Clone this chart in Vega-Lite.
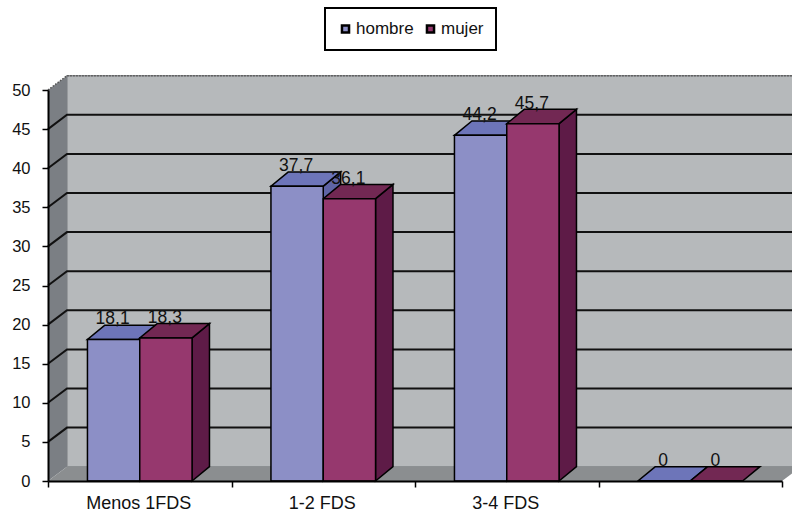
{
"$schema":"https://vega.github.io/schema/vega-lite/v6.json",
"width":734,"height":391,
"autosize":{"type":"none"},
"padding":{"left":48,"top":90,"right":10,"bottom":37},
"background":"white",
"config":{"font":"Liberation Sans","view":{"stroke":null},"legend":{"strokeWidth":2}},
"datasets":{
"bars":[
{"cat":"Menos 1FDS","serie":"hombre","value":18.1,"label":"18,1"},
{"cat":"Menos 1FDS","serie":"mujer","value":18.3,"label":"18,3"},
{"cat":"1-2 FDS","serie":"hombre","value":37.7,"label":"37,7"},
{"cat":"1-2 FDS","serie":"mujer","value":36.1,"label":"36,1"},
{"cat":"3-4 FDS","serie":"hombre","value":44.2,"label":"44,2"},
{"cat":"3-4 FDS","serie":"mujer","value":45.7,"label":"45,7"},
{"cat":" ","serie":"hombre","value":0,"label":"0"},
{"cat":" ","serie":"mujer","value":0,"label":"0"}
],
"walls":[
{"part":"side","x":0,"y":0,"y2":50},
{"part":"side","x":0.1035,"y":1.83,"y2":51.83},
{"part":"back","x":0.1035,"y":1.83,"y2":51.83},
{"part":"back","x":4.1035,"y":1.83,"y2":51.83}
],
"floor":[
{"y":0,"x":0,"x2":4},
{"y":1.83,"x":0.1035,"x2":4.1035}
],
"grid":[
{"t":5,"x":0,"y":5},{"t":5,"x":0.1035,"y":6.83},{"t":5,"x":4.1035,"y":6.83},
{"t":10,"x":0,"y":10},{"t":10,"x":0.1035,"y":11.83},{"t":10,"x":4.1035,"y":11.83},
{"t":15,"x":0,"y":15},{"t":15,"x":0.1035,"y":16.83},{"t":15,"x":4.1035,"y":16.83},
{"t":20,"x":0,"y":20},{"t":20,"x":0.1035,"y":21.83},{"t":20,"x":4.1035,"y":21.83},
{"t":25,"x":0,"y":25},{"t":25,"x":0.1035,"y":26.83},{"t":25,"x":4.1035,"y":26.83},
{"t":30,"x":0,"y":30},{"t":30,"x":0.1035,"y":31.83},{"t":30,"x":4.1035,"y":31.83},
{"t":35,"x":0,"y":35},{"t":35,"x":0.1035,"y":36.83},{"t":35,"x":4.1035,"y":36.83},
{"t":40,"x":0,"y":40},{"t":40,"x":0.1035,"y":41.83},{"t":40,"x":4.1035,"y":41.83},
{"t":45,"x":0,"y":45},{"t":45,"x":0.1035,"y":46.83},{"t":45,"x":4.1035,"y":46.83}
],
"rim":[
{"x":0,"y":50},{"x":0.1035,"y":51.83},{"x":4.1035,"y":51.83}
],
"side":[
{"serie":"hombre","cat":"a","x":0.5,"y":0,"y2":18.1},{"serie":"hombre","cat":"a","x":0.595,"y":1.83,"y2":19.93},
{"serie":"mujer","cat":"a","x":0.785,"y":0,"y2":18.3},{"serie":"mujer","cat":"a","x":0.88,"y":1.83,"y2":20.13},
{"serie":"hombre","cat":"b","x":1.5,"y":0,"y2":37.7},{"serie":"hombre","cat":"b","x":1.595,"y":1.83,"y2":39.53},
{"serie":"mujer","cat":"b","x":1.785,"y":0,"y2":36.1},{"serie":"mujer","cat":"b","x":1.88,"y":1.83,"y2":37.93},
{"serie":"hombre","cat":"c","x":2.5,"y":0,"y2":44.2},{"serie":"hombre","cat":"c","x":2.595,"y":1.83,"y2":46.03},
{"serie":"mujer","cat":"c","x":2.785,"y":0,"y2":45.7},{"serie":"mujer","cat":"c","x":2.88,"y":1.83,"y2":47.53}
],
"top":[
{"serie":"hombre","cat":"a","y":18.1,"x":0.215,"x2":0.5},{"serie":"hombre","cat":"a","y":19.93,"x":0.31,"x2":0.595},
{"serie":"mujer","cat":"a","y":18.3,"x":0.5,"x2":0.785},{"serie":"mujer","cat":"a","y":20.13,"x":0.595,"x2":0.88},
{"serie":"hombre","cat":"b","y":37.7,"x":1.215,"x2":1.5},{"serie":"hombre","cat":"b","y":39.53,"x":1.31,"x2":1.595},
{"serie":"mujer","cat":"b","y":36.1,"x":1.5,"x2":1.785},{"serie":"mujer","cat":"b","y":37.93,"x":1.595,"x2":1.88},
{"serie":"hombre","cat":"c","y":44.2,"x":2.215,"x2":2.5},{"serie":"hombre","cat":"c","y":46.03,"x":2.31,"x2":2.595},
{"serie":"mujer","cat":"c","y":45.7,"x":2.5,"x2":2.785},{"serie":"mujer","cat":"c","y":47.53,"x":2.595,"x2":2.88},
{"serie":"hombre","cat":"d","y":0,"x":3.215,"x2":3.5},{"serie":"hombre","cat":"d","y":1.83,"x":3.31,"x2":3.595},
{"serie":"mujer","cat":"d","y":0,"x":3.5,"x2":3.785},{"serie":"mujer","cat":"d","y":1.83,"x":3.595,"x2":3.88}
]
},
"resolve":{"scale":{"x":"independent","xOffset":"independent"},"axis":{"x":"independent","y":"independent"}},
"layer":[
{"data":{"name":"walls"},"transform":[{"filter":"datum.part=='back'"}],
 "mark":{"type":"area","color":"#b6b9bb","stroke":"#8d9093","strokeWidth":1.5,"clip":false},
 "encoding":{
  "x":{"field":"x","type":"quantitative","scale":{"domain":[0,4],"nice":false,"zero":false},"axis":{"title":null,"orient":"bottom","values":[0,1,2,3,4],"labels":false,"domain":false,"grid":false,"tickColor":"#000","tickSize":6,"tickWidth":1.5,"zindex":1}},
  "y":{"field":"y","type":"quantitative","scale":{"domain":[0,50],"nice":false},"axis":{"title":null,"orient":"left","values":[0,5,10,15,20,25,30,35,40,45,50],"labelOverlap":false,"grid":false,"domainColor":"#000","domainWidth":2,"tickColor":"#000","tickSize":6,"tickWidth":1.5,"labelColor":"#111","labelFontSize":16.5,"labelPadding":12,"labelFont":"Liberation Sans","zindex":1}},
  "y2":{"field":"y2"}}},
{"data":{"name":"walls"},"transform":[{"filter":"datum.part=='side'"}],
 "mark":{"type":"area","color":"#7b7f84","strokeWidth":0},
 "encoding":{
  "x":{"field":"x","type":"quantitative","scale":{"domain":[0,4],"nice":false,"zero":false},"axis":null},
  "y":{"field":"y","type":"quantitative","axis":null},"y2":{"field":"y2"}}},
{"data":{"name":"floor"},
 "mark":{"type":"area","orient":"horizontal","color":"#8b8e90","strokeWidth":0},
 "encoding":{
  "y":{"field":"y","type":"quantitative","axis":null},
  "x":{"field":"x","type":"quantitative","scale":{"domain":[0,4],"nice":false,"zero":false},"axis":null},"x2":{"field":"x2"}}},
{"data":{"name":"grid"},
 "mark":{"type":"line","color":"#111","strokeWidth":2},
 "encoding":{
  "x":{"field":"x","type":"quantitative","scale":{"domain":[0,4],"nice":false,"zero":false},"axis":null},
  "y":{"field":"y","type":"quantitative","axis":null},"detail":{"field":"t"}}},
{"data":{"name":"rim"},
 "mark":{"type":"line","color":"#555","strokeWidth":1.5,"strokeDash":[1.5,1.5]},
 "encoding":{
  "x":{"field":"x","type":"quantitative","scale":{"domain":[0,4],"nice":false,"zero":false},"axis":null},
  "y":{"field":"y","type":"quantitative","axis":null}}},
{"data":{"name":"side"},"transform":[{"filter":"datum.serie=='hombre'"}],
 "mark":{"type":"area","color":"#5f64a6","stroke":"#000","strokeWidth":1.5},
 "encoding":{
  "x":{"field":"x","type":"quantitative","scale":{"domain":[0,4],"nice":false,"zero":false},"axis":null},
  "y":{"field":"y","type":"quantitative","axis":null},"y2":{"field":"y2"},"detail":{"field":"cat"}}},
{"data":{"name":"top"},"transform":[{"filter":"datum.serie=='hombre'"}],
 "mark":{"type":"area","orient":"horizontal","color":"#6d75b9","stroke":"#000","strokeWidth":1.5},
 "encoding":{
  "y":{"field":"y","type":"quantitative","axis":null},
  "x":{"field":"x","type":"quantitative","scale":{"domain":[0,4],"nice":false,"zero":false},"axis":null},"x2":{"field":"x2"},"detail":{"field":"cat"}}},
{"data":{"name":"side"},"transform":[{"filter":"datum.serie=='mujer'"}],
 "mark":{"type":"area","color":"#5e1b47","stroke":"#000","strokeWidth":1.5},
 "encoding":{
  "x":{"field":"x","type":"quantitative","scale":{"domain":[0,4],"nice":false,"zero":false},"axis":null},
  "y":{"field":"y","type":"quantitative","axis":null},"y2":{"field":"y2"},"detail":{"field":"cat"}}},
{"data":{"name":"top"},"transform":[{"filter":"datum.serie=='mujer'"}],
 "mark":{"type":"area","orient":"horizontal","color":"#722853","stroke":"#000","strokeWidth":1.5},
 "encoding":{
  "y":{"field":"y","type":"quantitative","axis":null},
  "x":{"field":"x","type":"quantitative","scale":{"domain":[0,4],"nice":false,"zero":false},"axis":null},"x2":{"field":"x2"},"detail":{"field":"cat"}}},
{"data":{"name":"bars"},
 "mark":{"type":"bar","stroke":"#000","strokeWidth":1.5},
 "encoding":{
  "x":{"field":"cat","type":"nominal","sort":null,"scale":{"domain":["Menos 1FDS","1-2 FDS","3-4 FDS"," "],"paddingInner":0.43,"paddingOuter":0.215},
   "axis":{"title":null,"orient":"bottom","ticks":false,"labelAngle":0,"domainColor":"#000","domainWidth":2,"labelColor":"#111","labelFontSize":18,"labelPadding":13,"labelOffset":-1,"labelFont":"Liberation Sans","zindex":1}},
  "xOffset":{"field":"serie","type":"nominal","scale":{"domain":["hombre","mujer"]}},
  "y":{"field":"value","type":"quantitative","axis":null},
  "color":{"field":"serie","type":"nominal","scale":{"domain":["hombre","mujer"],"range":["#8c8fc6","#96386e"]},
   "legend":{"title":null,"orient":"none","legendX":277,"legendY":-82,"direction":"horizontal","symbolType":"square","symbolStrokeColor":"#000","symbolStrokeWidth":2.5,"symbolSize":50,"labelFontSize":17,"labelColor":"#111","labelFont":"Liberation Sans","strokeColor":"#000","padding":12,"columnPadding":7,"labelOffset":2,"fillColor":"white"}}}},
{"data":{"name":"bars"},
 "mark":{"type":"text","fontSize":17.5,"color":"#111","baseline":"alphabetic","dy":-15,"dx":-1},
 "encoding":{
  "x":{"field":"cat","type":"nominal","sort":null,"scale":{"domain":["Menos 1FDS","1-2 FDS","3-4 FDS"," "],"paddingInner":0.43,"paddingOuter":0.215},"axis":null},
  "xOffset":{"field":"serie","type":"nominal","scale":{"domain":["hombre","mujer"]}},
  "y":{"field":"value","type":"quantitative","axis":null},
  "text":{"field":"label"}}}
]
}
